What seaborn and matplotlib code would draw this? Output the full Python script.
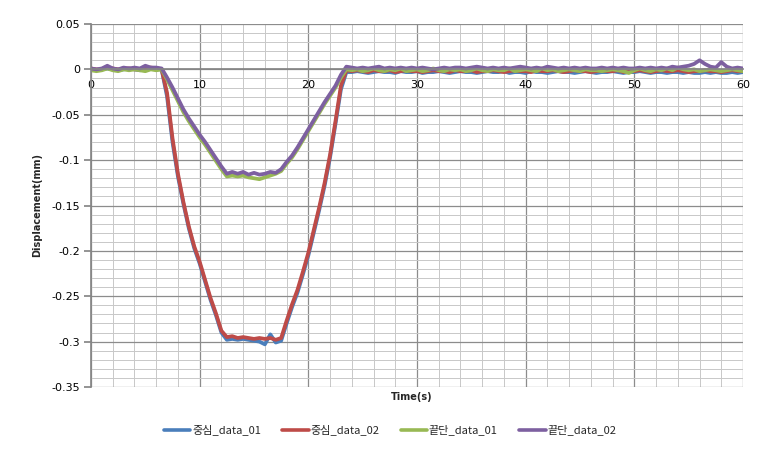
import numpy as np
import pandas as pd
import matplotlib
matplotlib.use("Agg")
import matplotlib.pyplot as plt
import seaborn as sns
from matplotlib.ticker import MultipleLocator, FuncFormatter

# ---- data ----
time_s = [i * 0.5 for i in range(121)]  # 0 .. 60 s, every 0.5 s

series_names = ["중심_data_01", "중심_data_02", "끝단_data_01", "끝단_data_02"]
colors = ["#4A7EBB", "#BE4B48", "#98B954", "#7D60A0"]

center_01 = (
    [0.000, -0.001, 0.000, 0.001, 0.000, -0.001, 0.000, 0.001, 0.000, -0.001, 0.000, 0.001, 0.000]
    + [0.000, -0.030, -0.080, -0.118, -0.148, -0.175, -0.197, -0.214, -0.234, -0.254, -0.271, -0.290, -0.298,
       -0.297, -0.298, -0.297, -0.298, -0.299, -0.300, -0.303, -0.292, -0.301, -0.299,
       -0.280, -0.262, -0.246, -0.226, -0.205, -0.180, -0.155, -0.128, -0.097, -0.060, -0.022, -0.003]
    + [-0.003, -0.002, -0.003, -0.004, -0.003, -0.002, -0.003, -0.003, -0.004, -0.002,
       -0.003, -0.003, -0.002, -0.004, -0.003, -0.003, -0.002, -0.003, -0.004, -0.003,
       -0.002, -0.003, -0.003, -0.004, -0.003, -0.002, -0.003, -0.003, -0.002, -0.004,
       -0.003, -0.003, -0.004, -0.002, -0.003, -0.003, -0.004, -0.003, -0.002, -0.003,
       -0.003, -0.004, -0.003, -0.002, -0.003, -0.004, -0.003, -0.003, -0.002, -0.003,
       -0.004, -0.003, -0.003, -0.002, -0.003, -0.004, -0.003, -0.003, -0.004, -0.003,
       -0.003, -0.004, -0.003, -0.004, -0.004, -0.003, -0.004, -0.003, -0.004, -0.004,
       -0.003, -0.004, -0.003]
)

center_02 = (
    [0.001, 0.000, 0.000, 0.002, 0.001, 0.000, 0.001, 0.001, 0.000, 0.000, 0.001, 0.002, 0.001]
    + [0.000, -0.026, -0.076, -0.115, -0.146, -0.173, -0.195, -0.212, -0.232, -0.252, -0.269, -0.288, -0.295,
       -0.294, -0.296, -0.295, -0.296, -0.297, -0.296, -0.297, -0.296, -0.298, -0.296,
       -0.277, -0.259, -0.243, -0.223, -0.202, -0.177, -0.152, -0.125, -0.094, -0.057, -0.018, -0.001]
    + [-0.002, -0.001, -0.002, -0.003, -0.001, -0.002, -0.002, -0.001, -0.003, -0.002,
       -0.001, -0.002, -0.002, -0.003, -0.002, -0.001, -0.002, -0.002, -0.003, -0.001,
       -0.002, -0.002, -0.001, -0.003, -0.002, -0.002, -0.001, -0.002, -0.003, -0.002,
       -0.001, -0.002, -0.002, -0.003, -0.001, -0.002, -0.002, -0.001, -0.002, -0.003,
       -0.002, -0.001, -0.002, -0.002, -0.003, -0.002, -0.001, -0.002, -0.002, -0.001,
       -0.003, -0.002, -0.002, -0.001, -0.002, -0.003, -0.002, -0.001, -0.002, -0.002,
       -0.001, -0.002, -0.003, -0.002, -0.002, -0.001, -0.002, -0.002, -0.003, -0.002,
       -0.001, -0.002, -0.002]
)

edge_01 = (
    [-0.001, -0.002, -0.001, 0.001, -0.001, -0.002, 0.000, -0.001, 0.000, -0.001, -0.002, 0.000, -0.001]
    + [0.000, -0.011, -0.023, -0.035, -0.047, -0.057, -0.066, -0.075, -0.083, -0.092, -0.101, -0.110, -0.118,
       -0.117, -0.118, -0.117, -0.119, -0.120, -0.121, -0.119, -0.117, -0.115, -0.112,
       -0.104, -0.097, -0.088, -0.078, -0.068, -0.058, -0.048, -0.038, -0.029, -0.020, -0.009, 0.000]
    + [-0.001, 0.000, -0.002, -0.001, 0.001, -0.001, -0.002, 0.000, -0.001, 0.001,
       -0.002, -0.001, 0.000, -0.002, -0.001, 0.001, -0.001, -0.002, 0.000, -0.001,
       0.000, -0.002, -0.001, 0.001, -0.001, -0.002, 0.000, -0.001, -0.001, 0.001,
       -0.002, -0.001, 0.000, -0.001, -0.002, 0.001, -0.001, 0.000, -0.002, -0.001,
       0.000, -0.001, -0.002, 0.000, -0.001, -0.001, -0.002, -0.001, 0.000, -0.001,
       -0.002, -0.004, -0.001, 0.001, -0.001, -0.002, 0.000, -0.001, 0.001, -0.001,
       0.002, 0.000, -0.001, 0.000, -0.002, -0.001, 0.000, -0.001, -0.002, -0.001,
       0.000, -0.001, -0.002]
)

edge_02 = (
    [0.001, 0.000, 0.001, 0.004, 0.001, 0.000, 0.002, 0.001, 0.002, 0.001, 0.004, 0.002, 0.002]
    + [0.001, -0.009, -0.020, -0.032, -0.044, -0.054, -0.063, -0.072, -0.080, -0.089, -0.098, -0.107, -0.115,
       -0.113, -0.115, -0.113, -0.116, -0.114, -0.116, -0.115, -0.113, -0.114, -0.110,
       -0.102, -0.095, -0.086, -0.076, -0.066, -0.056, -0.046, -0.036, -0.027, -0.018, -0.006, 0.003]
    + [0.002, 0.001, 0.002, 0.001, 0.002, 0.003, 0.001, 0.002, 0.001, 0.002,
       0.001, 0.002, 0.001, 0.002, 0.001, 0.000, 0.001, 0.002, 0.001, 0.002,
       0.002, 0.001, 0.002, 0.003, 0.002, 0.001, 0.002, 0.001, 0.002, 0.001,
       0.002, 0.003, 0.002, 0.001, 0.002, 0.001, 0.003, 0.002, 0.001, 0.002,
       0.001, 0.002, 0.001, 0.002, 0.001, 0.001, 0.002, 0.001, 0.002, 0.001,
       0.002, 0.001, 0.001, 0.002, 0.001, 0.002, 0.001, 0.002, 0.001, 0.003,
       0.002, 0.003, 0.004, 0.006, 0.010, 0.006, 0.003, 0.002, 0.008, 0.003,
       0.001, 0.002, 0.001]
)

x_ticks = [0, 10, 20, 30, 40, 50, 60]
y_ticks = [0.05, 0, -0.05, -0.1, -0.15, -0.2, -0.25, -0.3, -0.35]

# ---- build long table ----
frames = []
for name, vals in zip(series_names, [center_01, center_02, edge_01, edge_02]):
    frames.append(pd.DataFrame({"Time(s)": time_s, "Displacement(mm)": vals, "series": name}))
df = pd.concat(frames, ignore_index=True)

sns.set_theme(style="white")
plt.rcParams["font.family"] = ["Noto Sans CJK KR", "DejaVu Sans"]

fig = plt.figure(figsize=(7.7, 4.54), dpi=100)
ax = fig.add_axes([91 / 770, 1 - 387 / 454, (743 - 91) / 770, (387 - 24) / 454])

sns.lineplot(data=df, x="Time(s)", y="Displacement(mm)", hue="series",
             hue_order=series_names, palette=colors, estimator=None, sort=False,
             linewidth=2.7, ax=ax, legend=True)

ax.set_xlim(0, 60)
ax.set_ylim(-0.35, 0.05)
ax.set_xticks(x_ticks)
ax.set_yticks(y_ticks)
ax.xaxis.set_minor_locator(MultipleLocator(2))
ax.yaxis.set_minor_locator(MultipleLocator(0.01))
ax.yaxis.set_major_formatter(FuncFormatter(lambda v, p: "0" if abs(v) < 1e-9 else f"{v:g}"))

ax.grid(which="major", color="#8c8c8c", linewidth=0.9)
ax.grid(which="minor", color="#c8c8c8", linewidth=0.7)
ax.set_axisbelow(True)

for s in ["top", "right"]:
    ax.spines[s].set_visible(False)
ax.spines["left"].set_color("#868686")
ax.spines["bottom"].set_position(("data", 0))
ax.spines["bottom"].set_color("#868686")

ax.tick_params(axis="y", which="major", direction="out", length=5, color="#868686",
               labelsize=8, labelcolor="#000000", pad=3, left=True)
ax.tick_params(axis="x", which="major", direction="out", length=0, labelsize=8,
               labelcolor="#000000", pad=8)
ax.tick_params(which="minor", length=0)
for lab in ax.get_xticklabels() + ax.get_yticklabels():
    lab.set_family(["DejaVu Sans"])

ax.set_xlabel("")
ax.set_ylabel("")
fig.text(412 / 770, 1 - 397 / 454, "Time(s)", ha="center", va="center",
         fontsize=7, fontweight="bold", family=["DejaVu Sans"])
fig.text(37 / 770, 1 - 205 / 454, "Displacement(mm)", ha="center", va="center",
         rotation=90, fontsize=7, fontweight="bold", family=["DejaVu Sans"])

handles, labels = ax.get_legend_handles_labels()
ax.get_legend().remove()
leg = fig.legend(handles, labels, loc="center", bbox_to_anchor=(390 / 770, 1 - 430 / 454),
                 ncol=4, frameon=False, handlelength=2.4, columnspacing=1.9,
                 handletextpad=0.15, prop={"family": ["Noto Sans CJK KR", "DejaVu Sans"], "size": 8})
for ln in leg.get_lines():
    ln.set_linewidth(2.6)

fig.savefig("out.png", dpi=100)
